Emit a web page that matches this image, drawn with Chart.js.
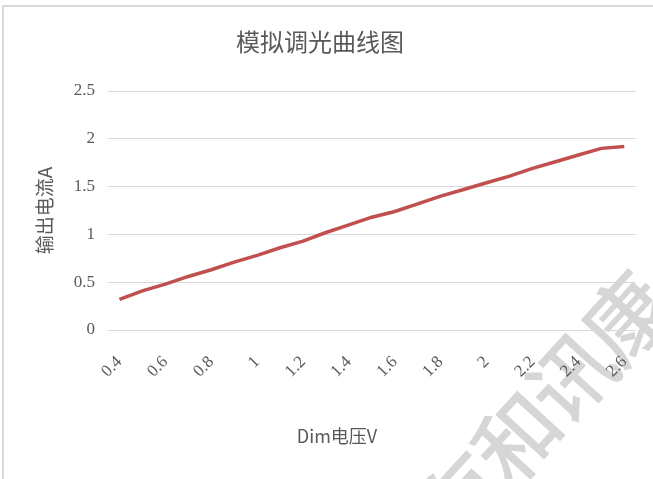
<!DOCTYPE html>
<html>
<head>
    <title>模拟调光曲线图</title>
    <script src="https://cdn.jsdelivr.net/npm/chart.js"></script>
    <style>
        body { margin: 0; background: #fff; overflow: hidden; }
        #frame { position: absolute; left: 2px; top: 5px; width: 720px; height: 600px; border: 2px solid #d9d9d9; }
        #wrap { position: absolute; left: 0; top: 0; width: 653px; height: 479px; }
    </style>
</head>
<body>
    <div id="frame"></div>
    <div id="wrap"><canvas id="dimChart"></canvas></div>

    <script>
        // Dim voltage (V) categories and measured output current (A)
        const voltages = ['0.4', '0.5', '0.6', '0.7', '0.8', '0.9', '1', '1.1', '1.2', '1.3', '1.4', '1.5',
                          '1.6', '1.7', '1.8', '1.9', '2', '2.1', '2.2', '2.3', '2.4', '2.5', '2.6'];
        const currents = [0.32, 0.41, 0.48, 0.56, 0.63, 0.71, 0.78, 0.86, 0.93, 1.02, 1.10, 1.18,
                          1.24, 1.32, 1.40, 1.47, 1.54, 1.61, 1.69, 1.76, 1.83, 1.90, 1.92];
        const yMin = 0, yMax = 2.5, yStep = 0.5;

        const titleText = '模拟调光曲线图';
        const yTitle = '输出电流A';
        const xTitle = 'Dim电压V';
        const watermark = '有和讯康';

        const grey = '#595959';
        const cjk = '"Noto Sans CJK SC", "Noto Sans", sans-serif';
        const num = '"Liberation Serif", "DejaVu Serif", serif';

        // faint watermark under the chart
        const watermarkPlugin = {
            id: 'watermark',
            beforeDraw(chart) {
                const ctx = chart.ctx;
                ctx.save();
                ctx.translate(462, 497);
                ctx.rotate(-47.5 * Math.PI / 180);
                ctx.fillStyle = '#d6d6d6';
                ctx.font = '500 84px ' + cjk;
                ctx.textAlign = 'center';
                ctx.textBaseline = 'middle';
                [...watermark].forEach((ch, i) => ctx.fillText(ch, i * 81, 0));
                ctx.restore();
            }
        };

        // x axis title sits a little left of the plot centre, as in the original
        const xTitlePlugin = {
            id: 'xTitle',
            afterDraw(chart) {
                const ctx = chart.ctx;
                ctx.save();
                ctx.fillStyle = grey;
                ctx.font = '18px ' + cjk;
                ctx.textAlign = 'center';
                ctx.textBaseline = 'middle';
                ctx.fillText(xTitle, 337, 436);
                ctx.restore();
            }
        };

        const ctx = document.getElementById('dimChart').getContext('2d');
        new Chart(ctx, {
            type: 'line',
            data: {
                labels: voltages,
                datasets: [{
                    label: yTitle,
                    data: currents,
                    borderColor: '#c0504d',
                    borderWidth: 3.5,
                    pointRadius: 0,
                    tension: 0,
                    fill: false
                }]
            },
            options: {
                responsive: true,
                maintainAspectRatio: false,
                animation: false,
                layout: { padding: { left: 0, right: 13, top: 0, bottom: 0 } },
                plugins: {
                    legend: { display: false },
                    tooltip: { enabled: false },
                    title: {
                        display: true,
                        text: titleText,
                        color: grey,
                        font: { family: cjk, size: 24, weight: 'normal' },
                        padding: { top: 27.6, bottom: 34.6 }
                    }
                },
                scales: {
                    x: {
                        offset: true,
                        grid: { display: false },
                        border: { display: false },
                        ticks: {
                            autoSkip: false,
                            minRotation: 45,
                            maxRotation: 45,
                            padding: 14,
                            color: grey,
                            font: { family: num, size: 17 },
                            callback: function (v, i) { return i % 2 === 0 ? this.getLabelForValue(v) : ''; }
                        },
                        afterFit: s => { s.height = 149; }
                    },
                    y: {
                        min: yMin,
                        max: yMax,
                        grid: { color: '#d9d9d9', lineWidth: 1, drawTicks: false },
                        border: { display: false },
                        ticks: {
                            stepSize: yStep,
                            padding: 13,
                            color: grey,
                            font: { family: num, size: 17 },
                            callback: v => String(v)
                        },
                        title: {
                            display: true,
                            text: yTitle,
                            color: grey,
                            font: { family: cjk, size: 19 },
                            padding: { top: 33.6, bottom: 0 }
                        },
                        afterFit: s => { s.width = 108; }
                    }
                }
            },
            plugins: [watermarkPlugin, xTitlePlugin]
        });
    </script>
</body>
</html>
